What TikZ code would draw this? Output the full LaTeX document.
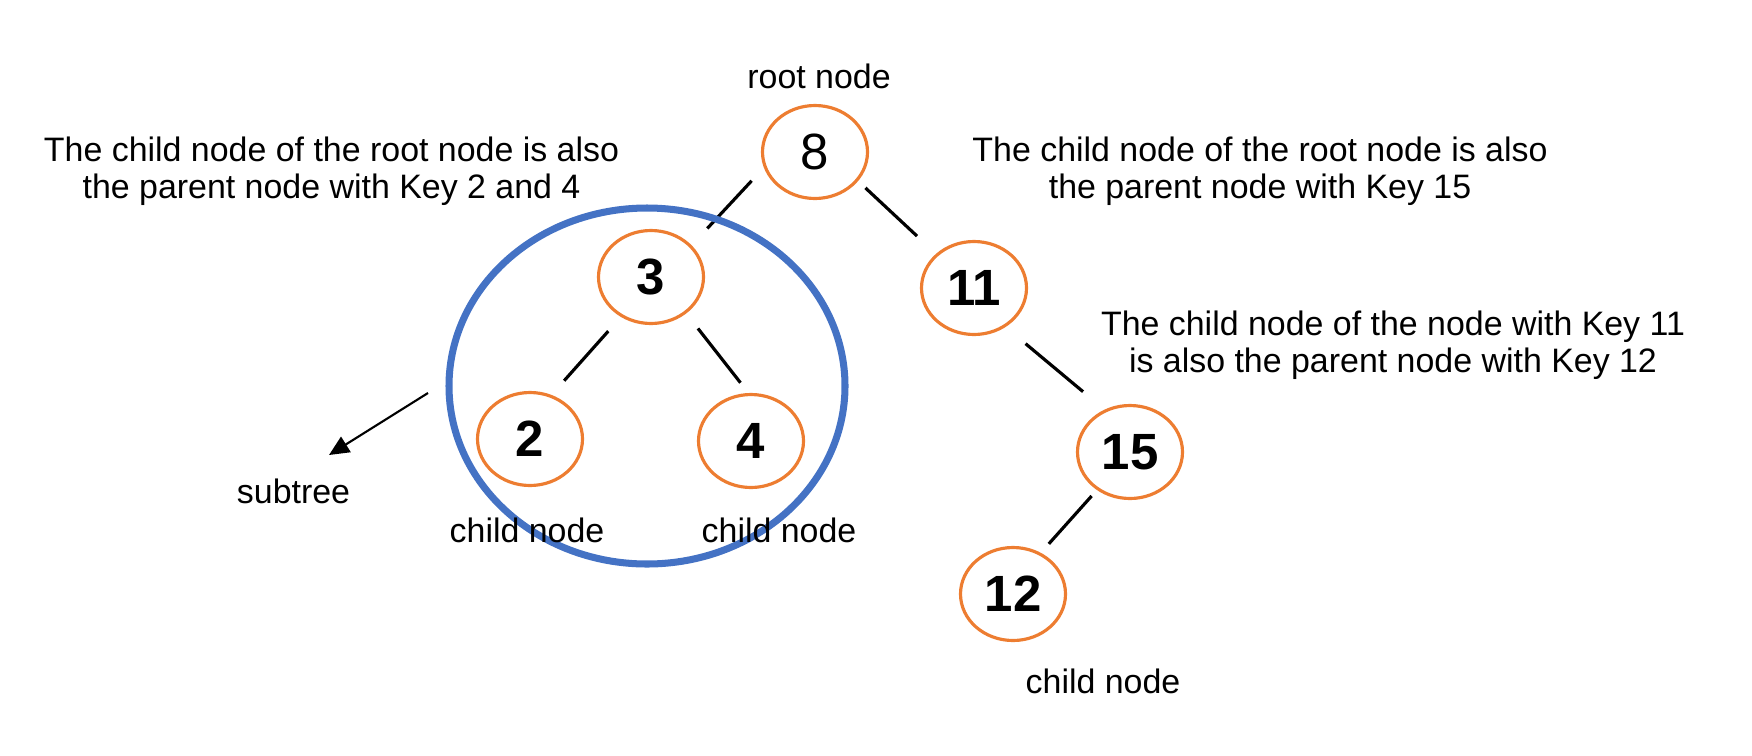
\documentclass[tikz,border=0pt]{standalone}
\usepackage{fontspec}
\setmainfont{Liberation Sans}
\usetikzlibrary{shapes.geometric,arrows.meta}

\definecolor{keyorange}{HTML}{ED7D31}
\definecolor{ringblue}{HTML}{4472C4}

\begin{document}
\begin{tikzpicture}[
	keynode/.style={ellipse, draw=keyorange, line width=0.9pt, inner sep=0pt, minimum width=1.05cm, minimum height=0.93cm, font=\fontsize{14.5}{16}\selectfont\bfseries},
	note/.style={align=center, inner sep=0pt, font=\fontsize{9.65}{10.5}\selectfont},
	edge/.style={line width=0.9pt},
	]

\useasboundingbox (0,0) rectangle (17.52,7.55);

	\node 	(n8)		at	(8.15,6.03) 	[keynode, font=\fontsize{14.5}{16}\selectfont]{8};

	\node 	(n3)		at	(6.51,4.78) 	[keynode]{3};

	\node 	(n11)		at	(9.74,4.67) 	[keynode]{11};

	\node 	(n2)		at	(5.30,3.16) 	[keynode]{2};

	\node 	(n4)		at	(7.51,3.14) 	[keynode]{4};

	\node 	(n15)		at	(11.30,3.03) 	[keynode]{15};

	\node 	(n12)		at	(10.13,1.61) 	[keynode]{12};


	\draw[edge, shorten <=0.18cm, shorten >=0.23cm]	(n8.197)	to	(n3.38);
	\draw[edge, shorten <=0.10cm, shorten >=0.26cm]	(n8.326)	to	(n11.138);
	\draw[edge, shorten <=0.19cm, shorten >=0.19cm]	(n3.233)	to	(n2.64);
	\draw[edge, shorten <=0.19cm, shorten >=0.13cm]	(n3.314)	to	(n4.93);
	\draw[edge, shorten <=0.26cm, shorten >=0.28cm]	(n11.309)	to	(n15.121);
	\draw[edge, shorten <=0.08cm, shorten >=0.12cm]	(n15.229)	to	(n12.56);

	% the subtree ring
	\node 	(ring)		at	(6.47,3.69) 	[ellipse, draw=ringblue, line width=2pt, minimum width=3.96cm, minimum height=3.56cm]{};

	\coordinate 	(subtail)	at	(4.28,3.62);
	\coordinate 	(subtip)	at	(3.29,3.00);
	\draw[-{Triangle[length=0.2cm, width=0.18cm]}, line width=0.6pt]	(subtail)	to	(subtip);

	\node 	(rootlbl)	at	(8.19,6.79) 	[note]{root node};
	\node 	(noteleft)	at	(3.315,5.835) 	[note]{The child node of the root node is also\\the parent node with Key 2 and 4};
	\node 	(noteright)	at	(12.60,5.835) 	[note]{The child node of the root node is also\\the parent node with Key 15};
	\node 	(notemid)	at	(13.93,4.095) 	[note]{The child node of the node with Key 11\\is also the parent node with Key 12};
	\node 	(subtreelbl)	at	(2.935,2.64) 	[note]{subtree};
	\node 	(childa)	at	(5.27,2.25) 	[note]{child node};
	\node 	(childb)	at	(7.79,2.25) 	[note]{child node};
	\node 	(childc)	at	(11.03,0.74) 	[note]{child node};

\end{tikzpicture}
\end{document}
